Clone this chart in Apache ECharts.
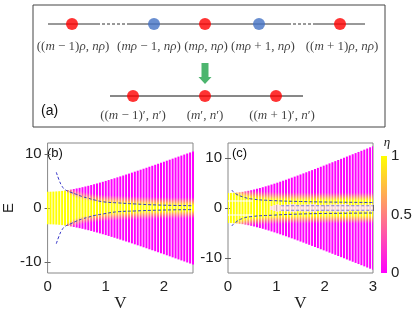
<!DOCTYPE html>
<html><head><meta charset="utf-8">
<script src="https://cdn.jsdelivr.net/npm/echarts@6/dist/echarts.min.js"></script>
<style>html,body{margin:0;padding:0;background:#fff}#c{width:416px;height:314px}</style>
</head><body><div id="c"></div><script>
// ---------- data ----------
// Panel (b): stripe positions V, band half-width (envelope), yellow-core half-width
const vB = [0,0.05,0.1,0.15,0.2,0.25,0.3,0.35,0.4,0.45,0.5,0.55,0.6,0.65,0.7,0.75,0.8,0.85,0.9,0.95,1,1.05,1.1,1.15,1.2,1.25,1.3,1.35,1.4,1.45,1.5,1.55,1.6,1.65,1.7,1.75,1.8,1.85,1.9,1.95,2,2.05,2.1,2.15,2.2,2.25,2.3,2.35,2.4,2.45,2.5];
const envB = [3.00,3.01,3.03,3.06,3.10,3.16,3.23,3.31,3.40,3.50,3.61,3.72,3.84,3.97,4.10,4.24,4.39,4.53,4.69,4.84,5.00,5.16,5.33,5.49,5.66,5.83,6.00,6.18,6.35,6.53,6.71,6.89,7.07,7.25,7.43,7.62,7.80,7.98,8.17,8.36,8.54,8.73,8.92,9.11,9.30,9.49,9.68,9.87,10.06,10.25,10.44];
const coreB = [3.5,3.5,3.5,3.5,3.5,3.5,3.1,2.6,2.3,2.0,1.8,1.65,1.5,1.4,1.3,1.2,1.15,1.1,1.0,0.95,0.9,0.88,0.85,0.82,0.8,0.78,0.75,0.72,0.7,0.68,0.66,0.64,0.62,0.6,0.58,0.56,0.55,0.54,0.53,0.52,0.5,0.5,0.49,0.48,0.47,0.46,0.45,0.45,0.44,0.44,0.43];
// Panel (c)
const vC = [0,0.06,0.12,0.18,0.24,0.3,0.36,0.42,0.48,0.54,0.6,0.66,0.72,0.78,0.84,0.9,0.96,1.02,1.08,1.14,1.2,1.26,1.32,1.38,1.44,1.5,1.56,1.62,1.68,1.74,1.8,1.86,1.92,1.98,2.04,2.1,2.16,2.22,2.28,2.34,2.4,2.46,2.52,2.58,2.64,2.7,2.76,2.82,2.88,2.94,3];
const envC = [3.00,3.01,3.04,3.09,3.15,3.23,3.33,3.44,3.56,3.70,3.84,4.00,4.16,4.33,4.50,4.69,4.87,5.06,5.26,5.46,5.66,5.87,6.07,6.28,6.49,6.71,6.92,7.14,7.36,7.58,7.80,8.02,8.25,8.47,8.69,8.92,9.15,9.37,9.60,9.83,10.06,10.29,10.52,10.75,10.98,11.21,11.44,11.67,11.90,12.14,12.37];
const coreC = [3.2,3.2,2.9,2.65,2.45,2.3,2.15,2.05,1.95,1.9,1.85,1.8,1.75,1.7,1.68,1.65,1.62,1.6,1.6,1.58,1.58,1.56,1.56,1.55,1.55,1.54,1.54,1.53,1.53,1.52,1.52,1.52,1.51,1.51,1.5,1.5,1.5,1.5,1.5,1.5,1.5,1.5,1.5,1.5,1.5,1.5,1.5,1.5,1.5,1.5,1.5];
const paleC = [0,0,0,0,0,0,0,0,0,0,0,0,0,0,0,0.4,0.6,0.7,0.7,0.7,0.7,0.7,0.7,0.7,0.7,0.7,0.7,0.7,0.7,0.7,0.7,0.7,0.7,0.7,0.7,0.7,0.7,0.7,0.7,0.7,0.7,0.7,0.7,0.7,0.7,0.7,0.7,0.7,0.7,0.7,0.7];
const gapC = [1.4,1.4,1.4,1.4,1.4,1.4,1.4,1.4,1.4,0,0,0,0,0,0,0,0,0,0,0,0,0,0,0,0,0,0,0,0,0,0,0,0,0,0,0,0,0,0,0,0,0,0,0,0,0,0,0,0,0,0];
// dashed guide curves
const dashBUp = [[0.15,6.6],[0.2,5.1],[0.25,4.0],[0.3,3.4],[0.4,2.9],[0.5,2.5],[0.6,2.1],[0.7,1.8],[0.8,1.5],[0.95,1.15],[1.2,0.95],[1.5,0.75],[1.9,0.55],[2.5,0.42]];
const dashBLo = [[0.15,-6.6],[0.2,-5.1],[0.25,-4.0],[0.3,-3.4],[0.4,-2.9],[0.5,-2.4],[0.6,-2.0],[0.7,-1.7],[0.8,-1.4],[0.95,-1.1],[1.2,-0.7],[1.5,-0.55],[1.9,-0.4],[2.5,-0.3]];
const dashCUp = [[0.08,3.6],[0.15,2.9],[0.3,2.25],[0.5,1.8],[0.9,1.5],[1.5,1.3],[2,1.2],[3,1.1]];
const dashCLo = [[0.08,-3.6],[0.15,-2.9],[0.3,-2.1],[0.5,-1.7],[0.9,-1.45],[1.5,-1.2],[2,-1.1],[3,-1.0]];
const dashCIn1 = [[1.1,0.45],[3,0.45]];
const dashCIn2 = [[1.1,-0.45],[3,-0.45]];
// tick labels
const xTicksB = [0,1,2];
const xTicksC = [0,1,2,3];
const yTicks = [-10,0,10];
const cbTicks = [0,0.5,1];
// schematic (a): site positions along the chain (schematic units)
const topRed = [39,172,307];
const topBlue = [121,226];
const topLabels = ['(({i|m} − 1){i|ρ}, {i|nρ})','({i|mρ} − 1, {i|nρ})','({i|mρ}, {i|nρ})','({i|mρ} + 1, {i|nρ})','(({i|m} + 1){i|ρ}, {i|nρ})'];
const topLabelPos = [40,116,173,230,309];
const botRed = [100,172,243];
const botLabels = ['(({i|m} − 1)′, {i|n}′)','({i|m}′, {i|n}′)','(({i|m} + 1)′, {i|n}′)'];
const botLabelPos = [100,172,249];
const topSolid = [[15,64],[97,255],[280,332]];
const topDashed = [[64,97],[255,280]];
const botLine = [77,270];
const rowTop = 19, rowBot = 91, labTop = 42, labBot = 111, arrowY = 68.5;

// ---------- drawing ----------
const chart = echarts.init(document.getElementById('c'), null, {renderer:'canvas'});
function spring(eta){ return 'rgb(255,'+Math.round(255*eta)+','+Math.round(255*(1-eta))+')'; }
const PALE = '#fbd6cf';
function makeStripe(vs, envs, cores, fade, pales, gaps, axisIdx){
  const data = vs.map((v,i)=>[v, envs[i], cores[i], pales?pales[i]:0, gaps?gaps[i]:0]);
  return {
    type:'custom', xAxisIndex:axisIdx, yAxisIndex:axisIdx, clip:true, silent:true, z:2,
    data,
    renderItem(params, api){
      const v=api.value(0), env=api.value(1), core=api.value(2), pale=api.value(3), gap=api.value(4);
      const top=api.coord([v,env]), bot=api.coord([v,-env]);
      const w=2, N=90, stops=[];
      for(let k=0;k<=N;k++){
        const E = env - 2*env*k/N, a=Math.abs(E);
        let col;
        if(a < pale) col = PALE;
        else if(a<=core) col = spring(1);
        else if(a>=core+fade) col = spring(0);
        else col = spring(1-(a-core)/fade);
        stops.push({offset:k/N, color:col});
      }
      const children=[{type:'rect', shape:{x:top[0]-w/2, y:top[1], width:w, height:bot[1]-top[1]}, style:{fill:new echarts.graphic.LinearGradient(0,0,0,1,stops)}}];
      if(gap>0){
        [gap,-gap].forEach(g=>{const p=api.coord([v,g]); children.push({type:'rect', shape:{x:top[0]-w/2-1, y:p[1]-0.5, width:w+2, height:1}, style:{fill:'#ffffff'}});});
      }
      return {type:'group', children};
    }
  };
}
const axisCol = '#666', txtCol = '#222';
const tickFont = {fontSize:15, color:txtCol, fontFamily:'Liberation Sans'};
function xAxes(g, max, ticks){
  return [
    {gridIndex:g, type:'value', min:0, max, position:'bottom', axisLine:{show:false},
     axisTick:{inside:true, length:3, lineStyle:{color:axisCol}, customValues:ticks},
     axisLabel:Object.assign({customValues:ticks, margin:6}, tickFont), splitLine:{show:false},
     name:'V', nameLocation:'middle', nameGap:20, nameTextStyle:{fontFamily:'Liberation Serif', fontSize:17, color:txtCol}},
    {gridIndex:g, type:'value', min:0, max, position:'top', axisLine:{show:false},
     axisTick:{inside:true, length:3, lineStyle:{color:axisCol}, customValues:ticks},
     axisLabel:{show:false}, splitLine:{show:false}}
  ];
}
function yAxes(g, lim, name){
  return [
    {gridIndex:g, type:'value', min:-lim, max:lim, position:'left', axisLine:{show:false},
     axisTick:{inside:true, length:3, lineStyle:{color:axisCol}, customValues:yTicks},
     axisLabel:Object.assign({customValues:yTicks, margin:6}, tickFont), splitLine:{show:false},
     name:name||'', nameLocation:'middle', nameGap:22, nameRotate:90, nameTextStyle:{fontFamily:'Liberation Sans', fontSize:15, color:txtCol}},
    {gridIndex:g, type:'value', min:-lim, max:lim, position:'right', axisLine:{show:false},
     axisTick:{inside:true, length:3, lineStyle:{color:axisCol}, customValues:yTicks},
     axisLabel:{show:false}, splitLine:{show:false}}
  ];
}
function dashLine(data, idx, color){
  return {type:'line', xAxisIndex:idx, yAxisIndex:idx, data, symbol:'none', smooth:true, silent:true, z:5,
    lineStyle:{color:color||'#3434c8', width:1, type:[3,2]}};
}
const richLab = {fontFamily:'Liberation Serif', fontSize:13, color:'#111', rich:{i:{fontFamily:'Liberation Serif', fontSize:13, fontStyle:'italic', color:'#111'}}};
const option = {
  animation:false,
  grid:[
    {left:43, top:143, width:150, height:130, show:true, borderColor:'#888', borderWidth:1, backgroundColor:'transparent'},
    {left:228, top:143, width:145, height:130, show:true, borderColor:'#888', borderWidth:1, backgroundColor:'transparent'},
    {left:381, top:156, width:6, height:117},
    {left:33, top:5, width:352, height:122, show:true, borderColor:'#444', borderWidth:1}
  ],
  xAxis:[
    ...xAxes(0,2.5,xTicksB), ...xAxes(1,3,xTicksC),
    {gridIndex:2, type:'category', data:['c'], show:false},
    {gridIndex:3, type:'value', min:0, max:352, show:false}
  ],
  yAxis:[
    ...yAxes(0,12,'E'), ...yAxes(1,13),
    {gridIndex:2, type:'value', min:0, max:1, position:'right', axisLine:{show:false}, axisTick:{show:false},
     axisLabel:Object.assign({customValues:cbTicks, margin:4}, tickFont), splitLine:{show:false},
     name:'η', nameLocation:'end', nameGap:5, nameTextStyle:{fontFamily:'Liberation Serif', fontStyle:'italic', fontSize:13, color:txtCol, align:'center'}},
    {gridIndex:3, type:'value', min:0, max:122, inverse:true, show:false}
  ],
  series:[
    makeStripe(vB, envB, coreB, 1.5, null, null, 0),
    makeStripe(vC, envC, coreC, 1.6, paleC, gapC, 2),
    dashLine(dashBUp,0), dashLine(dashBLo,0),
    dashLine(dashCUp,2), dashLine(dashCLo,2),
    dashLine(dashCIn1,2,'#7a7ad8'), dashLine(dashCIn2,2,'#7a7ad8'),
    {type:'bar', xAxisIndex:4, yAxisIndex:4, data:[1], barWidth:'100%', silent:true,
     itemStyle:{color:new echarts.graphic.LinearGradient(0,0,0,1,[{offset:0,color:spring(1)},{offset:1,color:spring(0)}])}},
    // schematic (a)
    ...topSolid.map(s=>({type:'line', xAxisIndex:5, yAxisIndex:5, data:[[s[0],rowTop],[s[1],rowTop]], symbol:'none', silent:true, lineStyle:{color:'#333', width:1}})),
    ...topDashed.map(s=>({type:'line', xAxisIndex:5, yAxisIndex:5, data:[[s[0],rowTop],[s[1],rowTop]], symbol:'none', silent:true, lineStyle:{color:'#333', width:1, type:[3,2]}})),
    {type:'line', xAxisIndex:5, yAxisIndex:5, data:[[botLine[0],rowBot],[botLine[1],rowBot]], symbol:'none', silent:true, lineStyle:{color:'#111', width:1}},
    {type:'scatter', xAxisIndex:5, yAxisIndex:5, symbolSize:12, silent:true, z:4, itemStyle:{color:'#ff0000'},
     data:[...topRed.map(x=>[x,rowTop]), ...botRed.map(x=>[x,rowBot])]},
    {type:'scatter', xAxisIndex:5, yAxisIndex:5, symbolSize:12, silent:true, z:4, itemStyle:{color:'#4472c4'},
     data:topBlue.map(x=>[x,rowTop])},
    {type:'scatter', xAxisIndex:5, yAxisIndex:5, symbolSize:0, silent:true,
     data:[...topLabelPos.map((x,i)=>({value:[x,labTop], name:topLabels[i]})), ...botLabelPos.map((x,i)=>({value:[x,labBot], name:botLabels[i]}))],
     label:Object.assign({show:true, position:'inside', formatter:p=>p.name}, richLab)},
    {type:'scatter', xAxisIndex:5, yAxisIndex:5, silent:true, symbol:'path://M3,0 L10,0 L10,14 L13,14 L6.5,21 L0,14 L3,14 Z', symbolSize:[13,21],
     itemStyle:{color:'#1fa34a'}, data:[[172,arrowY]]}
  ],
  graphic:[
    {type:'text', left:41, top:104, style:{text:'(a)', fontFamily:'Liberation Sans', fontSize:14, fill:'#111'}},
    {type:'text', left:47, top:147, style:{text:'(b)', fontFamily:'Liberation Sans', fontSize:13, fill:'#111'}},
    {type:'text', left:232, top:147, style:{text:'(c)', fontFamily:'Liberation Sans', fontSize:13, fill:'#111'}}
  ]
};
chart.setOption(option);
</script></body></html>
